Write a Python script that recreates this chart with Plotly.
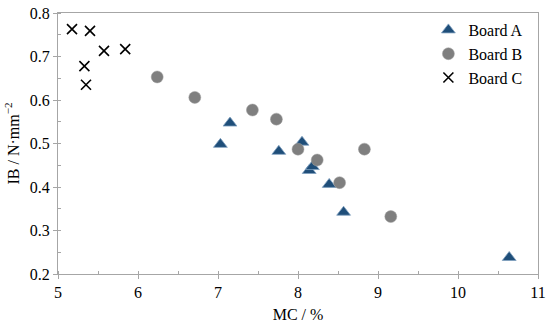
import plotly.graph_objects as go

a_mc = [7.03, 7.15, 7.76, 8.05, 8.14, 8.18, 8.39, 8.57, 10.64]
a_ib = [0.498, 0.547, 0.482, 0.503, 0.438, 0.447, 0.406, 0.342, 0.238]

b_mc = [6.24, 6.71, 7.43, 7.73, 8.00, 8.24, 8.52, 8.83, 9.16]
b_ib = [0.653, 0.606, 0.577, 0.556, 0.487, 0.462, 0.410, 0.487, 0.332]

c_mc = [5.175, 5.40, 5.575, 5.84, 5.33, 5.35]
c_ib = [0.763, 0.759, 0.713, 0.717, 0.678, 0.635]

serif = "Liberation Serif, Times New Roman, serif"

fig = go.Figure()
fig.add_trace(go.Scatter(x=a_mc, y=a_ib, mode="markers", name="Board A",
                         marker=dict(symbol="triangle-up", size=12, color="#1f4e79",
                                     line=dict(color="#7f9fbf", width=0.8))))
fig.add_trace(go.Scatter(x=b_mc, y=b_ib, mode="markers", name="Board B",
                         marker=dict(symbol="circle", size=12, color="#7f7f7f",
                                     line=dict(color="#a0a0a0", width=0.5))))
fig.add_trace(go.Scatter(x=c_mc, y=c_ib, mode="markers", name="Board C",
                         marker=dict(symbol="x-thin", size=10, color="black",
                                     line=dict(color="black", width=1.6))))

fig.update_layout(
    width=550, height=327,
    margin=dict(l=58, r=12, t=13, b=53, autoexpand=False),
    paper_bgcolor="white", plot_bgcolor="white",
    font=dict(family=serif, size=16, color="black"),
    showlegend=True,
    legend=dict(x=0.98, y=1.0, xanchor="right", yanchor="top",
                font=dict(family=serif, size=16), bgcolor="rgba(0,0,0,0)",
                itemwidth=30, tracegroupgap=0),
    xaxis=dict(range=[5, 11], dtick=1, showgrid=False, zeroline=False, automargin=False,
               showline=True, linecolor="#a6a6a6", linewidth=1.3, mirror=True,
               ticks="outside", ticklen=4, tickcolor="#a6a6a6",
               minor=dict(dtick=0.5, ticks="inside", ticklen=3, tickcolor="#a6a6a6"),
               title=dict(text="MC / %", font=dict(family=serif, size=16), standoff=8),
               tickfont=dict(family=serif, size=16)),
    yaxis=dict(range=[0.2, 0.8], dtick=0.1, tickformat=".1f", showgrid=False, zeroline=False,
               automargin=False,
               showline=True, linecolor="#a6a6a6", linewidth=1.3, mirror=True,
               ticks="outside", ticklen=4, tickcolor="#a6a6a6",
               minor=dict(dtick=0.05, ticks="inside", ticklen=3, tickcolor="#a6a6a6"),
               title=dict(text="IB / N·mm<sup>−2</sup>", font=dict(family=serif, size=16), standoff=6),
               tickfont=dict(family=serif, size=16)),
)

fig.write_html("out.html", config={"displayModeBar": False},
               post_script="document.body.style.margin='0';document.body.style.padding='0';")
